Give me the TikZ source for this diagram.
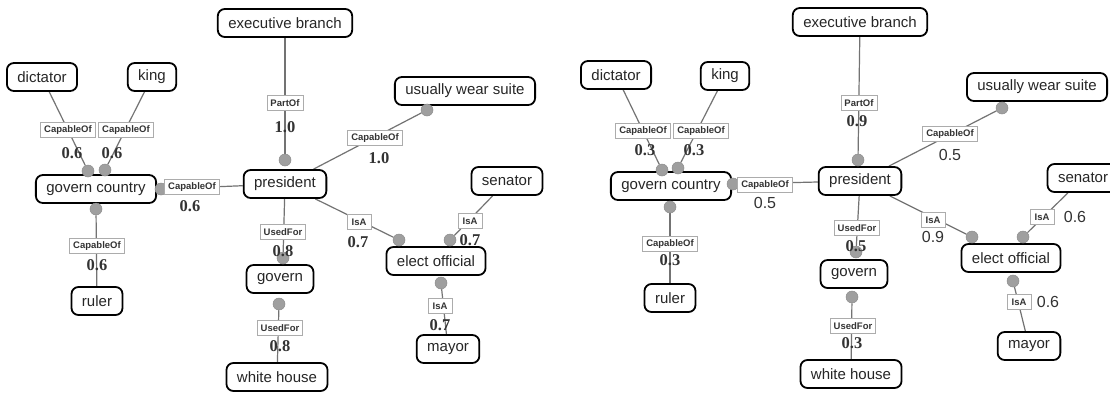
\documentclass[tikz,border=0pt]{standalone}
\usepackage{fontspec}
\setmainfont{Liberation Sans}
\newfontfamily\numfont{Liberation Serif}
\pgfdeclarelayer{bg}
\pgfdeclarelayer{paper}
\pgfsetlayers{paper,bg,main}
\begin{document}
\begin{tikzpicture}[x=1pt,y=-1pt,
  concept/.style={draw=black, line width=1.8pt, rounded corners=7pt, fill=white, inner xsep=10.5pt, inner ysep=0pt, minimum height=28pt, font=\fontsize{15}{16}\selectfont, text=black!85},
  rel/.style={draw=gray!65, line width=0.9pt, fill=white, inner xsep=3.5pt, inner ysep=1pt, minimum height=15pt, minimum width=24pt, font=\fontsize{9.5}{10}\selectfont\bfseries, text=black!80},
  wt/.style={font=\numfont\bfseries\fontsize{16.5}{17}\selectfont, text=black!80, inner sep=0pt},
  wts/.style={font=\fontsize{16}{17}\selectfont, text=black!80, inner sep=0pt},
  tip/.style={circle, fill=gray!75, draw=gray!90, line width=0.5pt, minimum size=12pt, inner sep=0pt},
  link/.style={draw=black!55, line width=1.2pt},
]
\useasboundingbox (0,0) rectangle (1110,397);
\begin{pgfonlayer}{paper}
\fill[white] (0,0) rectangle (1110,397);
\end{pgfonlayer}

% ---------------- left graph ----------------
\node[concept] (exec) at (285,23) {executive branch};
\node[concept] (dict) at (42,77) {dictator};
\node[concept] (king) at (152,77) {king};
\node[concept] (gc) at (96,189) {govern country};
\node[concept] (pres) at (285,184) {president};
\node[concept] (suite) at (465,91) {usually wear suite};
\node[concept] (sen) at (507,181) {senator};
\node[concept] (eo) at (436,261) {elect official};
\node[concept] (mayor) at (448,349) {mayor};
\node[concept] (ruler) at (97,301) {ruler};
\node[concept] (govern) at (280,279) {govern};
\node[concept] (wh) at (277,377) {white house};

\node[tip] (tdict) at (88,171) {};
\node[tip] (tking) at (105,170) {};
\node[tip] (tgc) at (161,189) {};
\node[tip] (tpres) at (285,160) {};
\node[tip] (tsuite) at (427,110) {};
\node[tip] (teoa) at (399,240) {};
\node[tip] (teob) at (450,240) {};
\node[tip] (teoc) at (441,283) {};
\node[tip] (truler) at (96,209) {};
\node[tip] (tgova) at (283,258) {};
\node[tip] (tgovb) at (279,304) {};

\begin{pgfonlayer}{bg}
\draw[link] (dict) -- (tdict);
\draw[link] (king) -- (tking);
\draw[link] (pres) -- (tgc);
\draw[link] (exec) -- (tpres);
\draw[link] (pres) -- (tsuite);
\draw[link] (pres) -- (teoa);
\draw[link] (sen) -- (teob);
\draw[link] (mayor) -- (teoc);
\draw[link] (ruler) -- (truler);
\draw[link] (pres) -- (tgova);
\draw[link] (wh) -- (tgovb);
\end{pgfonlayer}

\node[rel] (rdict) at (68,130) {CapableOf};
\node[rel] (rking) at (126,130) {CapableOf};
\node[rel] (rgc) at (192,187) {CapableOf};
\node[rel] (rpart) at (285,103) {PartOf};
\node[rel] (rsuite) at (375,138) {CapableOf};
\node[rel] (risaa) at (359,222) {IsA};
\node[rel] (risab) at (470,221) {IsA};
\node[rel] (risac) at (440,306) {IsA};
\node[rel] (rruler) at (97,246) {CapableOf};
\node[rel] (rusea) at (283,232) {UsedFor};
\node[rel] (ruseb) at (280,328) {UsedFor};

\node[wt] (wdict) at (72,153) {0.6};
\node[wt] (wking) at (112,153) {0.6};
\node[wt] (wgc) at (190,206) {0.6};
\node[wt] (wpart) at (285,127) {1.0};
\node[wt] (wsuite) at (379,158) {1.0};
\node[wt] (wisaa) at (358,242) {0.7};
\node[wt] (wisab) at (470,240) {0.7};
\node[wt] (wisac) at (440,325) {0.7};
\node[wt] (wruler) at (97,265) {0.6};
\node[wt] (wusea) at (283,251) {0.8};
\node[wt] (wuseb) at (280,346) {0.8};

% ---------------- right graph ----------------
\node[concept] (exec2) at (860,22) {executive branch};
\node[concept] (dict2) at (616,75) {dictator};
\node[concept] (king2) at (725,76) {king};
\node[concept] (gc2) at (671,186) {govern country};
\node[concept] (pres2) at (860,181) {president};
\node[concept] (suite2) at (1037,87) {usually wear suite};
\node[concept] (sen2) at (1083,178) {senator};
\node[concept] (eo2) at (1011,258) {elect official};
\node[concept] (mayor2) at (1029,346) {mayor};
\node[concept] (ruler2) at (670,298) {ruler};
\node[concept] (govern2) at (854,274) {govern};
\node[concept] (wh2) at (851,374) {white house};

\node[tip] (tdict2) at (662,170) {};
\node[tip] (tking2) at (678,168) {};
\node[tip] (tgc2) at (733,184) {};
\node[tip] (tpres2) at (858,160) {};
\node[tip] (tsuite2) at (1002,108) {};
\node[tip] (teoa2) at (972,237) {};
\node[tip] (teob2) at (1023,237) {};
\node[tip] (teoc2) at (1013,281) {};
\node[tip] (truler2) at (670,207) {};
\node[tip] (tgova2) at (856,252) {};
\node[tip] (tgovb2) at (852,297) {};

\begin{pgfonlayer}{bg}
\draw[link] (dict2) -- (tdict2);
\draw[link] (king2) -- (tking2);
\draw[link] (pres2) -- (tgc2);
\draw[link] (exec2) -- (tpres2);
\draw[link] (pres2) -- (tsuite2);
\draw[link] (pres2) -- (teoa2);
\draw[link] (sen2) -- (teob2);
\draw[link] (mayor2) -- (teoc2);
\draw[link] (ruler2) -- (truler2);
\draw[link] (pres2) -- (tgova2);
\draw[link] (wh2) -- (tgovb2);
\end{pgfonlayer}

\node[rel] (rdict2) at (643,131) {CapableOf};
\node[rel] (rking2) at (701,131) {CapableOf};
\node[rel] (rgc2) at (765,185) {CapableOf};
\node[rel] (rpart2) at (859,103) {PartOf};
\node[rel] (rsuite2) at (950,134) {CapableOf};
\node[rel] (risaa2) at (933,220) {IsA};
\node[rel] (risab2) at (1042,217) {IsA};
\node[rel] (risac2) at (1019,302) {IsA};
\node[rel] (rruler2) at (670,244) {CapableOf};
\node[rel] (rusea2) at (857,228) {UsedFor};
\node[rel] (ruseb2) at (853,326) {UsedFor};

\node[wt] (wdict2) at (645,150) {0.3};
\node[wt] (wking2) at (694,150) {0.3};
\node[wts] (wgc2) at (765,203) {0.5};
\node[wt] (wpart2) at (857,121) {0.9};
\node[wts] (wsuite2) at (950,155) {0.5};
\node[wts] (wisaa2) at (933,237) {0.9};
\node[wts] (wisab2) at (1075,217) {0.6};
\node[wts] (wisac2) at (1048,302) {0.6};
\node[wt] (wruler2) at (670,260) {0.3};
\node[wt] (wusea2) at (856,246) {0.5};
\node[wt] (wuseb2) at (852,343) {0.3};
\end{tikzpicture}
\end{document}
